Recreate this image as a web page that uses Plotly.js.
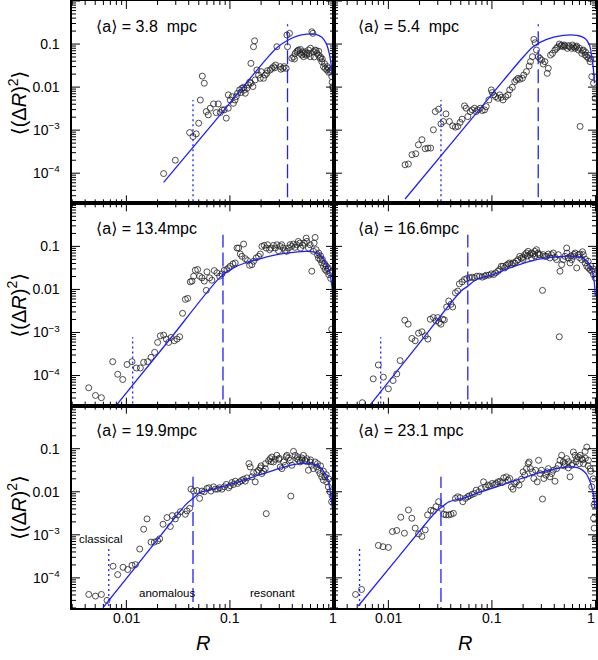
<!DOCTYPE html>
<html>
<head>
<meta charset="utf-8">
<script src="https://cdn.plot.ly/plotly-3.0.1.min.js"></script>
<style>body{margin:0;background:#fff}</style>
</head>
<body>
<div id="plot" style="width:598px;height:660px"></div>
<script>
// ======================= DATA =======================
// mean separation of each panel
const panelLabels = ['⟨a⟩ = 3.8\u00a0\u00a0mpc', '⟨a⟩ = 5.4\u00a0\u00a0mpc', '⟨a⟩ = 13.4mpc',
                     '⟨a⟩ = 16.6mpc', '⟨a⟩ = 19.9mpc', '⟨a⟩ = 23.1\u00a0mpc'];
const regimeLabels = ['classical', 'anomalous', 'resonant'];

const xTickVals = [0.01, 0.1, 1];
const xTickText = ['0.01', '0.1', '1'];
const yTickVals = [1e-4, 1e-3, 0.01, 0.1];
const yTickText = ['10<sup>\u22124</sup>', '10<sup>\u22123</sup>', '0.01', '0.1'];

// measured points: R and <(dR)^2>
const r1 = [0.0229,0.0297,0.0408,0.044,0.0473,0.0499,0.0518,0.0541,0.0565,0.0591,0.0618,0.0646,0.0695,0.0738,0.0771,0.0807,0.0843,0.0881,0.0922,0.0964,0.0964,0.1007,0.105,0.108,0.112,0.115,0.1185,0.124,0.128,0.1305,0.1355,0.137,0.1406,0.146,0.151,0.155,0.1595,0.1595,0.1667,0.169,0.173,0.1755,0.182,0.189,0.196,0.2,0.211,0.219,0.2275,0.23,0.245,0.254,0.2636,0.27,0.276,0.284,0.306,0.31,0.3246,0.334,0.349,0.355,0.36,0.376,0.396,0.411,0.42,0.427,0.443,0.45,0.459,0.477,0.48,0.495,0.5,0.514,0.52,0.533,0.55,0.553,0.574,0.58,0.596,0.6,0.618,0.632,0.641,0.65,0.665,0.68,0.69,0.716,0.72,0.743,0.75,0.771,0.78,0.801,0.82,0.831,0.863,0.87,0.895,0.9,0.929,0.95,0.964,0.97,0.986,0.99];
const d1 = [9.8e-5,2.0e-4,8.8e-4,7.1e-4,8.2e-4,1.45e-3,5.0e-3,0.018,0.0123,2.7e-3,2.26e-3,3.23e-3,4.07e-3,2.56e-3,4.07e-3,2.56e-3,2.96e-3,2.96e-3,1.9e-3,3.23e-3,6.6e-3,5.0e-3,6.0e-3,4.2e-3,5.0e-3,6.0e-3,7.2e-3,8.6e-3,7.5e-3,9.4e-3,9.9e-3,8.5e-3,7.2e-3,9.4e-3,0.0112,0.013,0.0123,0.0356,0.0103,0.0868,0.119,0.0147,0.025,0.0191,0.016,0.0229,0.016,0.0191,0.0209,0.024,0.025,0.0273,0.0299,0.028,0.0326,0.0868,0.0299,0.026,0.0273,0.0299,0.0273,0.162,0.0868,0.177,0.0466,0.0509,0.045,0.0608,0.0664,0.07,0.0726,0.0608,0.075,0.0556,0.066,0.0509,0.06,0.0664,0.055,0.0608,0.0726,0.06,0.0509,0.08,0.193,0.177,0.0664,0.05,0.0726,0.07,0.0608,0.0556,0.068,0.0466,0.05,0.039,0.045,0.0299,0.035,0.0273,0.025,0.03,0.0273,0.022,0.0229,0.025,0.0175,0.013,0.0103,0.0095];

const r2 = [0.0145,0.0156,0.0169,0.0184,0.0195,0.0211,0.0227,0.0241,0.0256,0.0272,0.0284,0.0306,0.0322,0.034,0.036,0.0388,0.0418,0.0444,0.0468,0.0493,0.0515,0.0543,0.0564,0.0585,0.0617,0.0645,0.0679,0.0705,0.0731,0.0771,0.0806,0.0849,0.0881,0.0935,0.0986,0.1008,0.1038,0.1086,0.1143,0.1187,0.1232,0.128,0.1358,0.143,0.1485,0.1575,0.166,0.1723,0.1788,0.1856,0.197,0.203,0.2155,0.2287,0.2355,0.2464,0.254,0.2615,0.2694,0.2797,0.2904,0.3014,0.313,0.3247,0.342,0.35,0.368,0.3853,0.4058,0.4212,0.43,0.4472,0.46,0.4713,0.4889,0.5,0.5077,0.5347,0.55,0.5594,0.5891,0.6,0.6114,0.635,0.65,0.659,0.684,0.7,0.7104,0.737,0.75,0.764,0.794,0.8,0.824,0.855,0.86,0.887,0.9,0.921,0.957,0.993];
const d2 = [1.57e-4,1.63e-4,2.69e-4,2.83e-4,4.57e-4,6.0e-4,3.7e-4,3.83e-4,3.83e-4,1.02e-3,2.7e-3,3.06e-3,1.4e-3,1.59e-3,2.39e-3,1.59e-3,1.26e-3,1.17e-3,1.22e-3,1.51e-3,1.8e-3,3.66e-3,3.23e-3,2.07e-3,2.7e-3,2.96e-3,3.23e-3,2.7e-3,2.96e-3,3.23e-3,2.86e-3,2.96e-3,3.53e-3,5.04e-3,8.6e-3,7.47e-3,6.6e-3,6.0e-3,5.5e-3,6.6e-3,5.8e-3,5.04e-3,6.0e-3,6.6e-3,8.6e-3,9.9e-3,0.0134,0.0147,0.016,0.0152,0.016,0.0191,0.0229,0.0309,0.039,0.0509,0.128,0.107,0.0726,0.0509,0.0466,0.0426,0.0344,0.039,0.0209,0.0273,0.0556,0.0608,0.0726,0.0794,0.085,0.1,0.09,0.0948,0.0868,0.095,0.0899,0.0794,0.092,0.0868,0.0794,0.095,0.0868,0.0794,0.085,0.0899,0.0726,0.08,1.22e-3,0.0608,0.07,0.0726,0.0556,0.065,0.0509,0.0466,0.055,0.039,0.045,0.0175,0.0123,0.0055];

const r3 = [0.00433,0.00503,0.00574,0.00738,0.00825,0.00922,0.01015,0.01134,0.01248,0.01364,0.01469,0.01606,0.0173,0.01876,0.02005,0.02128,0.02291,0.0243,0.0256,0.027,0.02904,0.0308,0.0327,0.0349,0.0371,0.0391,0.0414,0.043,0.0446,0.0463,0.0488,0.051,0.0537,0.0565,0.0591,0.06,0.0636,0.067,0.0706,0.075,0.0795,0.0837,0.0882,0.0935,0.0971,0.1007,0.1069,0.1125,0.117,0.1213,0.1259,0.1306,0.1355,0.1406,0.148,0.1548,0.163,0.169,0.1794,0.189,0.1963,0.2037,0.2145,0.2241,0.2308,0.2413,0.2486,0.2637,0.2736,0.2838,0.2944,0.3054,0.3168,0.3286,0.3409,0.3537,0.3669,0.3806,0.3948,0.4096,0.4249,0.4408,0.4573,0.4744,0.4813,0.5063,0.5212,0.5452,0.5532,0.5739,0.5954,0.6177,0.6408,0.6503,0.6648,0.6797,0.7,0.7162,0.72,0.743,0.75,0.7708,0.78,0.7997,0.82,0.8296,0.85,0.8606,0.88,0.8928,0.9,0.9262,0.94,0.9609];
const d3 = [5.19e-5,3.45e-5,3.05e-5,2.1e-4,1.07e-4,8.09e-5,1.8e-4,2.1e-4,1.5e-4,1.5e-4,2.03e-4,2.1e-4,2.65e-4,3.46e-4,5.88e-4,8.37e-4,8.68e-4,7.02e-4,5.88e-4,7.67e-4,6.42e-4,7.02e-4,7.94e-4,2.79e-3,5.88e-3,6.2e-3,0.015,0.0156,0.0203,0.0279,0.029,0.0203,0.0186,0.0156,9.5e-3,0.0256,0.0186,0.0164,0.0274,0.0243,0.0203,0.023,0.0279,0.029,0.0316,0.0345,0.0391,0.0412,0.0915,0.0915,0.0665,0.0588,0.1132,0.0519,0.0467,0.0364,0.0377,0.0451,0.0538,0.0588,0.0665,0.1,0.1054,0.0915,0.1093,0.0838,0.0915,0.1054,0.0915,0.1093,0.0794,0.1,0.1093,0.0915,0.0794,0.0767,0.0915,0.1093,0.1,0.1132,0.0948,0.1093,0.1303,0.1194,0.0915,0.1054,0.1194,0.1556,0.1303,0.0915,0.1093,0.0265,0.0767,0.1194,0.1614,0.0838,0.0642,0.0538,0.07,0.0492,0.06,0.0412,0.05,0.0345,0.04,0.029,0.035,0.0265,0.03,0.0316,0.022,0.0243,0.018,1.19e-3];

const r4 = [0.0056,0.00714,0.008,0.00894,0.01,0.0111,0.01205,0.01298,0.01441,0.01553,0.01685,0.01816,0.01956,0.02107,0.02269,0.02408,0.0254,0.02717,0.02884,0.02993,0.03106,0.03223,0.03344,0.0347,0.03655,0.03826,0.04028,0.0418,0.0444,0.0468,0.0485,0.0515,0.0543,0.0572,0.0607,0.0645,0.0679,0.0715,0.0759,0.0806,0.0849,0.0881,0.0935,0.0986,0.1038,0.1086,0.1143,0.1187,0.1232,0.128,0.1328,0.1378,0.143,0.1485,0.1541,0.1599,0.166,0.1723,0.1788,0.1856,0.1926,0.1999,0.2,0.2075,0.2155,0.22,0.2237,0.2321,0.24,0.241,0.2501,0.2596,0.26,0.2694,0.2797,0.28,0.2904,0.3081,0.313,0.3247,0.3371,0.3499,0.3632,0.377,0.3913,0.4061,0.4215,0.4376,0.4472,0.4542,0.4713,0.4889,0.5077,0.527,0.53,0.547,0.5678,0.58,0.5891,0.6114,0.62,0.635,0.659,0.684,0.7,0.7104,0.737,0.75,0.764,0.794,0.8,0.824,0.85,0.855,0.887,0.9,0.921,0.95,0.957,0.993];
const d4 = [2.34e-5,8.38e-5,1.76e-4,9.16e-5,4.92e-5,7.67e-5,1.09e-4,2.22e-4,1.93e-3,1.56e-3,7.27e-4,6.42e-4,9.66e-4,1.04e-3,8.37e-4,7.02e-4,2.03e-3,2.22e-3,1.86e-3,2.22e-3,1.7e-3,1.56e-3,2.03e-3,1.96e-3,3.91e-3,5.38e-3,4.51e-3,3.91e-3,8.38e-3,9.16e-3,0.0135,0.015,0.017,0.0179,0.0186,0.0193,0.0186,0.0203,0.0203,0.0193,0.0203,0.0214,0.0214,0.023,0.0222,0.0243,0.0265,0.029,0.0345,0.0345,0.0316,0.0364,0.0391,0.0412,0.0377,0.0412,0.0412,0.0451,0.0492,0.0588,0.0538,0.0557,0.05,0.0642,0.0702,0.06,0.0767,0.0642,0.07,0.0538,0.0665,0.0767,0.06,0.0838,0.0702,0.065,0.0642,9.5e-3,0.0642,0.0588,0.0588,0.0665,0.0538,0.0642,0.0702,0.0557,0.0492,0.0642,7.94e-4,0.0265,0.0377,0.0492,0.0588,0.0915,0.07,0.0538,0.0412,0.06,0.0492,0.0588,0.065,0.0702,0.0316,0.0642,0.055,0.0665,0.0492,0.075,0.0642,0.0412,0.05,0.0345,0.045,0.0316,0.029,0.035,0.0265,0.03,0.0222,0.0186];

const r5 = [0.00433,0.00503,0.00574,0.00651,0.00744,0.00824,0.00929,0.0103,0.01134,0.01222,0.01345,0.01469,0.01582,0.0173,0.01862,0.02005,0.02098,0.0226,0.02468,0.02657,0.02779,0.0297,0.03128,0.0332,0.03709,0.03847,0.04083,0.04206,0.04462,0.04806,0.05097,0.05369,0.05653,0.05995,0.06268,0.06554,0.06951,0.07219,0.07603,0.07947,0.08371,0.08818,0.0922,0.0971,0.1007,0.1045,0.1084,0.1125,0.1185,0.124,0.1297,0.1356,0.1407,0.146,0.1526,0.157,0.163,0.169,0.1755,0.182,0.189,0.1963,0.2,0.2037,0.2114,0.2194,0.22,0.2241,0.2361,0.245,0.25,0.2542,0.2637,0.2736,0.2838,0.2969,0.3,0.3061,0.3176,0.3296,0.342,0.35,0.3548,0.3681,0.3819,0.3875,0.3963,0.4112,0.4266,0.4426,0.45,0.4593,0.4765,0.4944,0.5,0.513,0.5322,0.55,0.5522,0.5729,0.5944,0.6,0.6167,0.6399,0.6639,0.6888,0.7,0.7147,0.7415,0.75,0.7694,0.7983,0.8,0.8282,0.85,0.8593,0.8916,0.9,0.925,0.9598,0.97];
const d5 = [4.12e-5,3.77e-5,4.12e-5,3e-5,1.86e-4,1.19e-4,1.76e-4,1.56e-4,1.96e-4,2.03e-4,4.67e-4,1.35e-3,2.34e-3,6.77e-4,6.77e-4,7.27e-4,8.09e-4,1.76e-3,2.51e-3,1.56e-3,2.79e-3,2.34e-3,2.9e-3,3.45e-3,3.0e-3,3.58e-3,4.12e-3,0.0115,0.0104,0.0107,7.02e-3,0.0104,0.01,0.0119,0.0124,0.0104,0.013,0.0115,0.0115,0.0124,0.0115,0.013,0.0148,0.0124,0.0138,0.0164,0.0148,0.0176,0.0156,0.017,0.0183,0.0196,0.0176,0.021,0.0451,0.0377,0.0222,0.0279,0.017,0.029,0.0316,0.0358,0.04,0.0265,0.03,0.0345,0.045,3.1e-3,0.0528,0.0588,0.05,0.0642,0.0492,0.0568,0.0702,0.0568,0.06,0.0377,0.0345,0.0492,0.0412,0.065,0.0702,0.0609,0.0538,7.94e-3,0.0412,0.0868,0.0702,0.0588,0.065,0.0538,0.0492,0.0609,0.055,0.0702,0.0538,0.05,0.0588,0.0316,0.0492,0.055,0.0412,0.0345,0.0492,0.0377,0.045,0.0316,0.0265,0.04,0.0222,0.0186,0.03,0.0222,0.025,0.017,0.013,0.02,0.01,5.88e-3,8e-3];

const r6 = [0.00482,0.00551,0.008,0.00888,0.01,0.01094,0.01205,0.01318,0.01429,0.01563,0.01685,0.01816,0.01956,0.02107,0.02269,0.02391,0.02576,0.02717,0.02884,0.03057,0.03244,0.03441,0.03603,0.03826,0.04028,0.04246,0.0444,0.0468,0.0493,0.0523,0.0555,0.0585,0.0607,0.0645,0.0679,0.0705,0.0748,0.0788,0.083,0.0868,0.0915,0.0949,0.1007,0.1061,0.1101,0.1143,0.1204,0.1259,0.1298,0.1378,0.143,0.1485,0.1541,0.1599,0.166,0.1723,0.1828,0.1926,0.1999,0.2075,0.2155,0.2237,0.2287,0.2355,0.2464,0.254,0.2636,0.2736,0.2819,0.2904,0.3014,0.3081,0.3175,0.3321,0.342,0.35,0.3632,0.377,0.3913,0.4061,0.4215,0.4376,0.4542,0.4713,0.4889,0.5,0.5077,0.527,0.547,0.55,0.5678,0.5891,0.6,0.6114,0.635,0.65,0.659,0.684,0.7,0.7104,0.737,0.75,0.764,0.794,0.8,0.824,0.85,0.855,0.887,0.9,0.921,0.95,0.957,0.971,0.97,0.993];
const d6 = [4.12e-5,5.38e-5,5.67e-4,5.29e-4,5.1e-4,1.19e-3,1.26e-3,2.56e-3,1.09e-3,3.78e-3,2.43e-3,1.43e-3,1.05e-3,9.16e-4,1.3e-3,2.9e-3,3.71e-3,3.58e-3,4.51e-3,5.88e-3,4.12e-3,3.0e-3,2.9e-3,2.9e-3,3.0e-3,3.16e-3,7.02e-3,7.67e-3,7.28e-3,5.88e-3,7.02e-3,7.67e-3,8.09e-3,8.68e-3,9.16e-3,0.0109,0.01,0.0119,0.017,0.013,0.0143,0.0138,0.0156,0.0148,0.0156,0.017,0.0176,0.0164,0.021,0.0222,0.0186,0.0203,0.013,0.0115,0.0156,0.017,0.0143,0.0196,0.029,0.0243,0.0345,0.0451,0.0492,0.0345,0.029,0.0203,0.0316,0.017,0.0538,0.0265,0.0316,6.78e-3,0.0203,0.0243,0.029,0.0345,0.0222,0.0265,0.0316,0.0176,0.0345,0.0412,0.0538,0.0702,0.0492,0.04,0.0451,0.0588,0.0358,0.05,0.0222,0.0412,0.045,0.0838,0.0702,0.05,0.0588,0.0642,0.045,0.0702,0.0588,0.055,0.0451,0.0868,0.06,0.1093,0.04,0.0538,0.0345,0.03,0.013,0.02,2.43e-3,1.43e-3,5e-3,8.37e-4];

// fitted curves
const fr1 = [0.0229,0.0723,0.2275,0.284,0.355,0.443,0.553,0.665,0.771,0.85,0.91,0.95,0.986];
const fv1 = [6.1e-5,1.67e-3,0.0466,0.0822,0.119,0.153,0.17,0.17,0.143,0.1036,0.0608,0.0326,0.0147];
const fr2 = [0.0145,0.043,0.128,0.1856,0.25,0.3373,0.4889,0.659,0.794,0.875,0.915,0.949,0.978];
const fv2 = [2.52e-5,5.86e-4,0.0139,0.0404,0.0868,0.128,0.159,0.159,0.135,0.0948,0.0556,0.0299,0.0123];
const fr3 = [0.00813,0.0256,0.0807,0.1084,0.146,0.1963,0.2838,0.4096,0.5532,0.6648,0.7708,0.849,0.914,0.961,0.995];
const fv3 = [2.14e-5,6.42e-4,0.0193,0.0316,0.0428,0.0519,0.0642,0.0727,0.0767,0.0727,0.0588,0.0412,0.0265,0.013,0.00588];
const fr4 = [0.00673,0.0184,0.0504,0.0585,0.0705,0.1022,0.1485,0.2321,0.3371,0.4889,0.635,0.764,0.855,0.921,0.971,0.995];
const fv4 = [2.14e-5,4.43e-4,0.00916,0.0119,0.017,0.0222,0.0316,0.0451,0.0538,0.0588,0.0588,0.0519,0.0412,0.029,0.0156,0.00702];
const fr5 = [0.00595,0.0151,0.03847,0.044,0.0518,0.0695,0.1084,0.169,0.2637,0.4112,0.5944,0.7415,0.8282,0.8916,0.942,0.977];
const fv5 = [2.03e-5,3.33e-4,0.00538,0.00702,0.00966,0.0115,0.0156,0.0222,0.0316,0.0428,0.0451,0.0377,0.0265,0.017,0.00838,0.00412];
const fr6 = [0.00512,0.01213,0.02884,0.03223,0.0388,0.0523,0.0759,0.1101,0.1723,0.2694,0.4215,0.5678,0.7104,0.811,0.887,0.952,0.987];
const fv6 = [2.22e-5,2.79e-4,0.00345,0.00427,0.00588,0.00702,0.00966,0.013,0.0186,0.0265,0.0345,0.0377,0.0345,0.0265,0.017,0.00916,0.00412];

// regime boundaries (dotted: classical/anomalous, dashed: anomalous/resonant)
const dotR = [0.044, 0.0322, 0.0115, 0.00843, 0.00676, 0.00527];
const dotTop = [5e-3, 5e-3, 7.7e-4, 7.7e-4, 4.92e-4, 4.92e-4];
const dashR = [0.36, 0.28, 0.0857, 0.0585, 0.044, 0.0322];
const dashTop = [0.29, 0.29, 0.186, 0.186, 0.0222, 0.0222];
const lineFloor = 1e-5;

const pts = [[r1,d1],[r2,d2],[r3,d3],[r4,d4],[r5,d5],[r6,d6]];
const fits = [[fr1,fv1],[fr2,fv2],[fr3,fv3],[fr4,fv4],[fr5,fv5],[fr6,fv6]];

// ======================= PLOT =======================
const FONT = '"Liberation Sans", "DejaVu Sans", Arial, sans-serif';
const BLUE = '#1f1fff';
const W = 598, H = 660, M = {l: 72, r: 2, t: 1, b: 52};
const X_RANGE = [-2.525, 0.005];
const Y_RANGE = [-4.7, 0];
const PANEL_W = (W - M.l - M.r) / 2, PANEL_H = (H - M.t - M.b) / 3;
const MAJOR_LEN = 8, MINOR_LEN = 4;

// inward tick marks on all four sides of a panel, as one line trace
function tickTrace(xa, ya) {
  const xs = [], ys = [];
  const dx = (X_RANGE[1] - X_RANGE[0]) / PANEL_W;   // log units per pixel
  const dy = (Y_RANGE[1] - Y_RANGE[0]) / PANEL_H;
  const seg = (x0, y0, x1, y1) => { xs.push(x0, x1, null); ys.push(y0, y1, null); };
  for (let e = Math.floor(X_RANGE[0]); e <= Math.ceil(X_RANGE[1]); e++) {
    for (let k = 1; k <= 9; k++) {
      const lv = e + Math.log10(k);
      if (lv < X_RANGE[0] || lv > X_RANGE[1]) continue;
      const len = k === 1 ? MAJOR_LEN : MINOR_LEN, v = Math.pow(10, lv);
      seg(v, Math.pow(10, Y_RANGE[0]), v, Math.pow(10, Y_RANGE[0] + len * dy));
      seg(v, Math.pow(10, Y_RANGE[1]), v, Math.pow(10, Y_RANGE[1] - len * dy));
    }
  }
  for (let e = Math.floor(Y_RANGE[0]); e <= Math.ceil(Y_RANGE[1]); e++) {
    for (let k = 1; k <= 9; k++) {
      const lv = e + Math.log10(k);
      if (lv < Y_RANGE[0] || lv > Y_RANGE[1]) continue;
      const len = k === 1 ? MAJOR_LEN : MINOR_LEN, v = Math.pow(10, lv);
      seg(Math.pow(10, X_RANGE[0]), v, Math.pow(10, X_RANGE[0] + len * dx), v);
      seg(Math.pow(10, X_RANGE[1]), v, Math.pow(10, X_RANGE[1] - len * dx), v);
    }
  }
  return {x: xs, y: ys, xaxis: xa, yaxis: ya, type: 'scatter', mode: 'lines', connectgaps: false,
    line: {color: '#000', width: 1, simplify: false}, hoverinfo: 'skip'};
}

const traces = [];
const layout = {
  width: W, height: H, margin: M,
  paper_bgcolor: '#fff', plot_bgcolor: '#fff',
  showlegend: false,
  font: {family: FONT, color: '#000', size: 14},
  annotations: []
};

for (let i = 0; i < 6; i++) {
  const n = i === 0 ? '' : String(i + 1);
  const col = i % 2, row = Math.floor(i / 2);
  const xa = 'x' + n, ya = 'y' + n;

  traces.push(tickTrace(xa, ya));
  traces.push({x: pts[i][0], y: pts[i][1], xaxis: xa, yaxis: ya, type: 'scatter', mode: 'markers',
    marker: {symbol: 'circle-open', size: 6, color: '#222', line: {width: 0.8}}});
  traces.push({x: fits[i][0], y: fits[i][1], xaxis: xa, yaxis: ya, type: 'scatter', mode: 'lines',
    line: {color: BLUE, width: 1.3, shape: 'spline', smoothing: 0.8}});
  traces.push({x: [dotR[i], dotR[i]], y: [lineFloor, dotTop[i]], xaxis: xa, yaxis: ya, type: 'scatter', mode: 'lines',
    line: {color: BLUE, width: 1.3, dash: '2px,3px'}});
  traces.push({x: [dashR[i], dashR[i]], y: [lineFloor, dashTop[i]], xaxis: xa, yaxis: ya, type: 'scatter', mode: 'lines',
    line: {color: BLUE, width: 1.3, dash: '14px,5px'}});

  layout['xaxis' + n] = {
    type: 'log', domain: col === 0 ? [0, 0.5] : [0.5, 1], anchor: ya, range: X_RANGE,
    showgrid: false, zeroline: false, showline: true, linecolor: '#000', linewidth: 1.5, mirror: true,
    ticks: '', showticklabels: false
  };
  layout['yaxis' + n] = {
    type: 'log', domain: [[2/3, 1], [1/3, 2/3], [0, 1/3]][row], anchor: xa, range: Y_RANGE,
    showgrid: false, zeroline: false, showline: true, linecolor: '#000', linewidth: 1.5, mirror: true,
    ticks: '', tickmode: 'array', tickvals: yTickVals, ticktext: yTickText.map(t => t + '\u00a0\u00a0'),
    showticklabels: col === 0, tickfont: {size: 14, color: '#000'}
  };

  layout.annotations.push({text: panelLabels[i], xref: xa + ' domain', yref: ya + ' domain',
    x: 0.085, y: 0.876, xanchor: 'left', yanchor: 'middle', showarrow: false, font: {size: 16}});

  // R tick labels under the bottom row
  if (row === 2) {
    xTickVals.forEach((v, k) => {
      const atEdge = col === 1 && k === xTickVals.length - 1;
      layout.annotations.push({text: xTickText[k], xref: xa, yref: 'paper', x: Math.log10(v), y: -0.0165,
        xanchor: atEdge ? 'right' : 'center', xshift: atEdge ? 2 : 0, yanchor: 'middle', showarrow: false, font: {size: 14}});
    });
  }
}

// y titles, one per row
[5/6, 1/2, 1/6].forEach(yc => {
  layout.annotations.push({text: '⟨(Δ<i>R</i>)<sup>2</sup>⟩', xref: 'paper', yref: 'paper',
    x: -0.105, y: yc, xanchor: 'center', yanchor: 'middle', textangle: -90, showarrow: false, font: {size: 20}});
});
// x titles
[0.25, 0.75].forEach(xc => {
  layout.annotations.push({text: '<i>R</i>', xref: 'paper', yref: 'paper',
    x: xc, y: -0.058, xanchor: 'center', yanchor: 'middle', showarrow: false, font: {size: 20}});
});
// regime names in the lower left panel
const regimePos = [[0.107, 0.341], [0.366, 0.074], [0.767, 0.074]];
regimeLabels.forEach((t, k) => {
  layout.annotations.push({text: t, xref: 'x5 domain', yref: 'y5 domain',
    x: regimePos[k][0], y: regimePos[k][1], xanchor: 'center', yanchor: 'middle', showarrow: false, font: {size: 11.5}});
});

Plotly.newPlot('plot', traces, layout, {displayModeBar: false});
</script>
</body>
</html>
